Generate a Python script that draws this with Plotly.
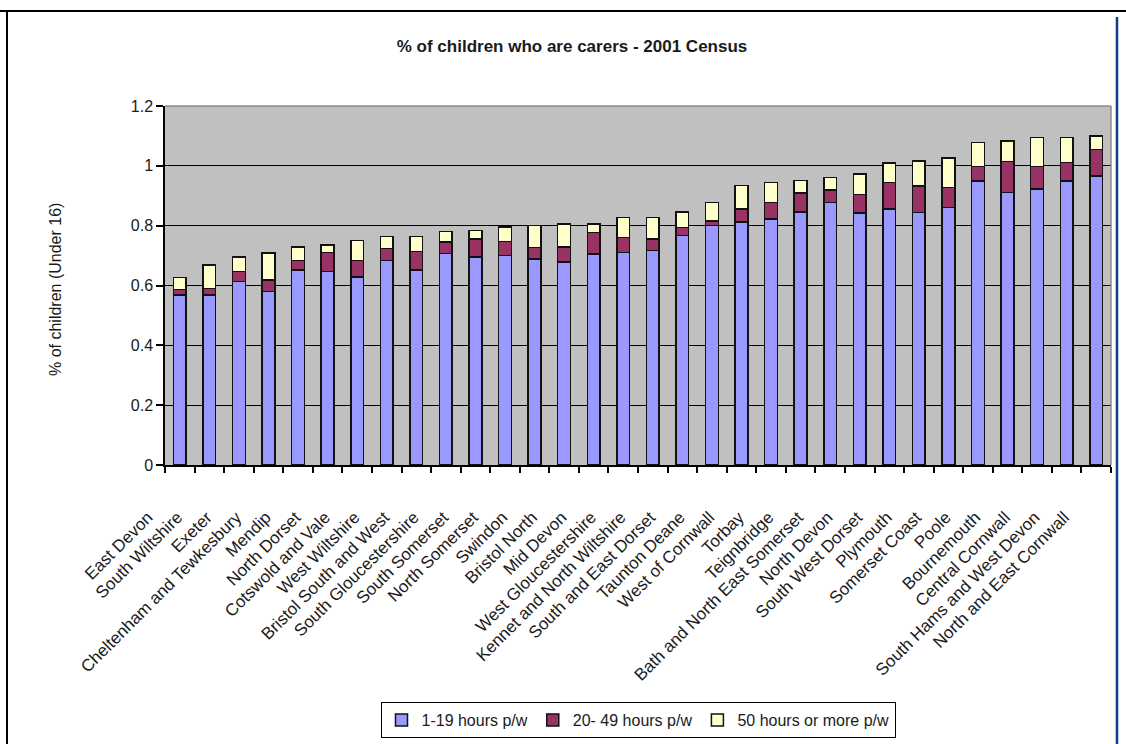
import plotly.graph_objects as go

categories = [
    "East Devon", "South Wiltshire", "Exeter", "Cheltenham and Tewkesbury",
    "Mendip", "North Dorset", "Cotswold and Vale", "West Wiltshire",
    "Bristol South and West", "South Gloucestershire", "South Somerset",
    "North Somerset", "Swindon", "Bristol North", "Mid Devon",
    "West Gloucestershire", "Kennet and North Wiltshire", "South and East Dorset",
    "Taunton Deane", "West of Cornwall", "Torbay", "Teignbridge",
    "Bath and North East Somerset", "North Devon", "South West Dorset",
    "Plymouth", "Somerset Coast", "Poole", "Bournemouth", "Central Cornwall",
    "South Hams and West Devon", "North and East Cornwall",
]

hours_1_19 = [0.568, 0.568, 0.613, 0.580, 0.651, 0.647, 0.629, 0.683, 0.651, 0.707,
              0.696, 0.700, 0.689, 0.678, 0.705, 0.711, 0.717, 0.767, 0.801, 0.812,
              0.822, 0.845, 0.877, 0.843, 0.855, 0.844, 0.860, 0.949, 0.911, 0.922,
              0.949, 0.966]
hours_20_49 = [0.018, 0.022, 0.034, 0.039, 0.032, 0.064, 0.054, 0.040, 0.062, 0.039,
               0.060, 0.047, 0.038, 0.050, 0.073, 0.049, 0.038, 0.027, 0.015, 0.043,
               0.056, 0.065, 0.043, 0.061, 0.089, 0.088, 0.067, 0.049, 0.104, 0.076,
               0.062, 0.088]
hours_50_plus = [0.040, 0.079, 0.049, 0.089, 0.046, 0.025, 0.068, 0.040, 0.050, 0.034,
                 0.028, 0.048, 0.074, 0.078, 0.028, 0.068, 0.072, 0.051, 0.062, 0.080,
                 0.067, 0.041, 0.041, 0.069, 0.065, 0.084, 0.100, 0.080, 0.068, 0.096,
                 0.083, 0.046]

series_names = ["1-19 hours p/w", "20- 49 hours p/w", "50 hours or more p/w"]
series_colors = ["#9999FF", "#993366", "#FFFFCC"]
y_ticks = [0, 0.2, 0.4, 0.6, 0.8, 1.0, 1.2]

FONT = "Liberation Sans, Arial, sans-serif"

fig = go.Figure()
for name, vals, col in zip(series_names, [hours_1_19, hours_20_49, hours_50_plus], series_colors):
    fig.add_trace(go.Bar(
        x=categories, y=vals, name=name,
        marker=dict(color=col, line=dict(color="#111111", width=1.5)),
    ))

W, H = 1126, 744
L, R, T, B = 165, 15, 106, 279
pw, ph = W - L - R, H - T - B


def px_x(px):
    return (px - L) / pw


def px_y(py):
    return (H - B - py) / ph


shapes = [
    # outer frame
    dict(type="line", xref="paper", yref="paper", x0=px_x(0), x1=px_x(1126), y0=px_y(11), y1=px_y(11),
         line=dict(color="#000000", width=2)),
    dict(type="line", xref="paper", yref="paper", x0=px_x(7), x1=px_x(7), y0=px_y(11), y1=px_y(744),
         line=dict(color="#000000", width=2)),
    dict(type="line", xref="paper", yref="paper", x0=px_x(1117), x1=px_x(1117), y0=px_y(17), y1=px_y(744),
         line=dict(color="#0B3F8C", width=2.5)),
    # plot area top / right border (grey)
    dict(type="line", xref="paper", yref="paper", x0=0, x1=1, y0=1, y1=1,
         line=dict(color="#8C8C8C", width=1.5)),
    dict(type="line", xref="paper", yref="paper", x0=1, x1=1, y0=0, y1=1,
         line=dict(color="#8C8C8C", width=1.5)),
]

fig.update_layout(
    width=W, height=H,
    margin=dict(l=L, r=R, t=T, b=B, autoexpand=False),
    paper_bgcolor="white",
    plot_bgcolor="#C0C0C0",
    barmode="stack",
    bargap=0.57,
    font=dict(family=FONT, size=16, color="#1a1a1a"),
    title=dict(text="<b>% of children who are carers - 2001 Census</b>",
               x=572 / W, xanchor="center", xref="container",
               y=1 - 46 / H, yanchor="middle", yref="container",
               font=dict(family=FONT, size=17, color="#1a1a1a")),
    showlegend=True,
    legend=dict(orientation="h", x=0.5, xanchor="center", xref="paper",
                y=px_y(720), yanchor="middle", yref="paper",
                bordercolor="#000000", borderwidth=1, bgcolor="white",
                font=dict(family=FONT, size=16, color="#1a1a1a"),
                itemwidth=30, tracegroupgap=0, traceorder="normal"),
    shapes=shapes,
    annotations=[dict(text="% of children (Under 16)", xref="paper", yref="paper",
                      x=px_x(55), y=px_y(290), textangle=-90, showarrow=False,
                      xanchor="center", yanchor="middle",
                      font=dict(family=FONT, size=16, color="#1a1a1a"))],
)

fig.update_xaxes(
    type="category", tickangle=-45, showgrid=False, automargin=False,
    showline=True, linecolor="#000000", linewidth=1.5,
    ticks="outside", tickson="boundaries", ticklen=6, tickcolor="#000000", tickwidth=1.5,
    tickfont=dict(family=FONT, size=17, color="#1a1a1a"),
    ticklabelshift=-32, ticklabelstandoff=34,
    range=[-0.5, len(categories) - 0.5],
)
fig.update_yaxes(
    range=[0, 1.2], tickvals=y_ticks, showgrid=True, gridcolor="#000000", gridwidth=1,
    showline=True, linecolor="#000000", linewidth=1.5, automargin=False,
    ticks="outside", ticklen=7, tickcolor="#000000", tickwidth=1.5,
    tickfont=dict(family=FONT, size=16, color="#1a1a1a"),
    zeroline=False,
)

fig.write_html("out.html")
